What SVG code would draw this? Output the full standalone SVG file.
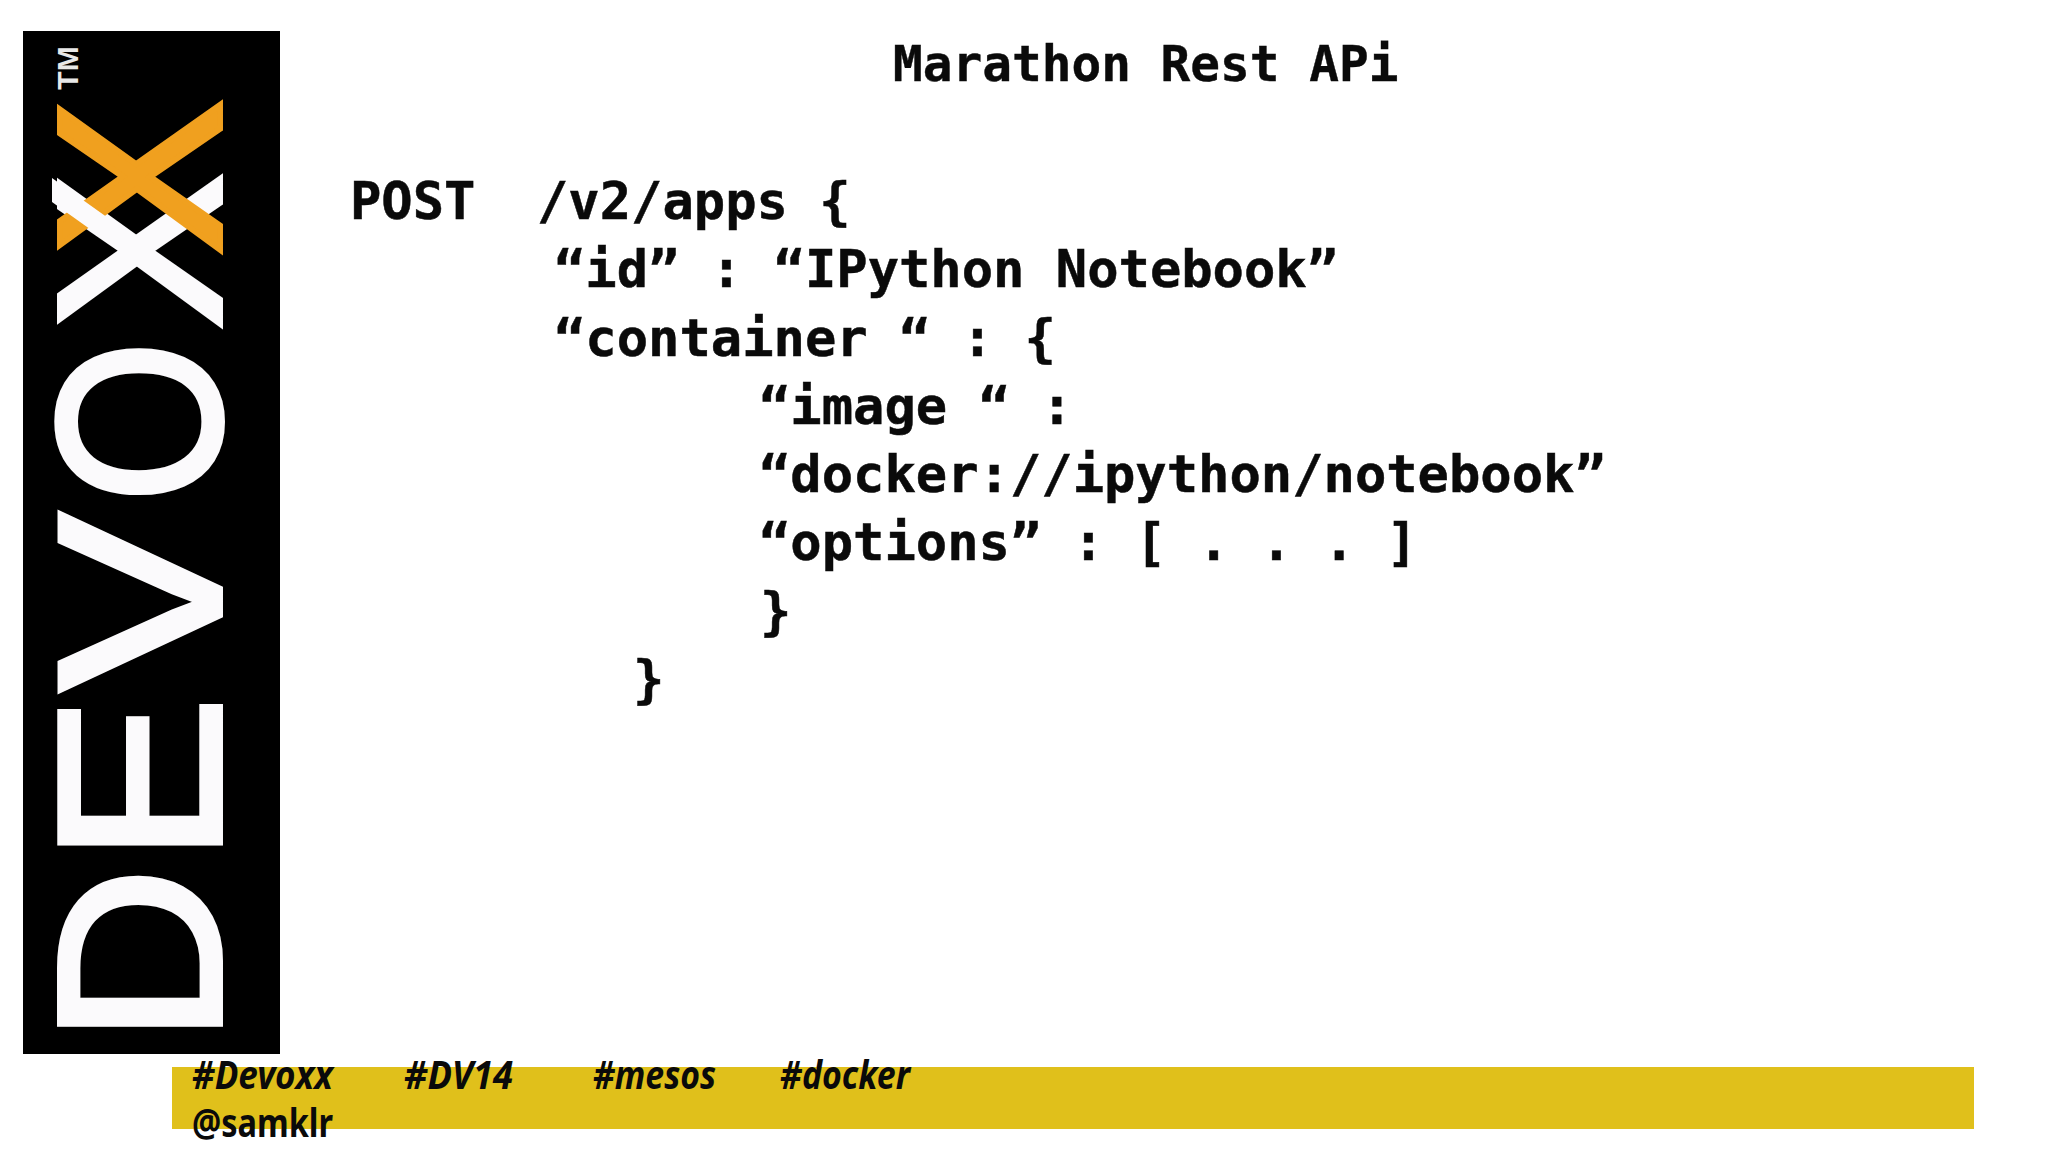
<svg xmlns="http://www.w3.org/2000/svg" width="2048" height="1152" viewBox="0 0 2048 1152">
<style>
.code{font-family:"DejaVu Sans Mono",monospace;font-weight:700;font-size:52.1px;fill:#0a0a0a;stroke:#0a0a0a;stroke-width:.5}
.title{font-family:"DejaVu Sans Mono",monospace;font-weight:700;font-size:49.4px;fill:#0a0a0a;stroke:#0a0a0a;stroke-width:.4}
.tag{font-family:"Noto Sans",sans-serif;font-weight:700;font-style:italic;font-size:40px;fill:#0a0a0a}
.at{font-family:"Noto Sans",sans-serif;font-weight:700;font-size:40px;fill:#0a0a0a}
.logo{font-family:"Liberation Sans",sans-serif;font-size:233px;fill:#fbfafc;stroke:#fbfafc;stroke-width:6;text-anchor:middle}
.tm{font-family:"Liberation Sans",sans-serif;font-weight:700;font-size:30px;fill:#e8e8e8;text-anchor:middle}
</style>
<rect width="2048" height="1152" fill="#fff"/>
<g id="logo">
<rect x="23" y="31" width="257" height="1023" fill="#000"/>
<text class="logo" transform="translate(220,955.5) rotate(-90) scale(1.05,.995)">D</text>
<text class="logo" transform="translate(220,779.5) rotate(-90) scale(1.07,.995)">E</text>
<text class="logo" transform="translate(220,602) rotate(-90) scale(1.14,.995)">V</text>
<text class="logo" transform="translate(220,421.5) rotate(-90) scale(.89,.995)">O</text>
<text class="logo" transform="translate(220,251.5) rotate(-90) scale(.995,.995)">X</text>
<text class="logo" style="fill:#f0a01f;stroke:#f0a01f" transform="translate(220,177.5) rotate(-90) scale(.995,.995)">X</text>
<polygon points="52,178 52,202 139,264 139,240" fill="#fbfafc"/>
<text class="tm" transform="translate(78,68) rotate(-90)">TM</text>
</g>
<g id="footer">
<rect x="172" y="1067" width="1802" height="62" fill="#e0c01b"/>
<text class="tag" x="192" y="1089" textLength="141" lengthAdjust="spacingAndGlyphs">#Devoxx</text>
<text class="tag" x="404" y="1089" textLength="109" lengthAdjust="spacingAndGlyphs">#DV14</text>
<text class="tag" x="593" y="1089" textLength="123" lengthAdjust="spacingAndGlyphs">#mesos</text>
<text class="tag" x="780" y="1089" textLength="130" lengthAdjust="spacingAndGlyphs">#docker</text>
<text class="at" x="192" y="1137" textLength="141" lengthAdjust="spacingAndGlyphs">@samklr</text>
</g>
<g id="content">
<text class="title" x="893" y="81">Marathon Rest APi</text>
<text class="code" x="350" y="219">POST</text>
<text class="code" x="537" y="219">/v2/apps {</text>
<text class="code" x="554" y="287">“id” : “IPython Notebook”</text>
<text class="code" x="554" y="355.5">“container “ : {</text>
<text class="code" x="759" y="423.5">“image “ :</text>
<text class="code" x="759" y="491.5">“docker://ipython/notebook”</text>
<text class="code" x="759" y="560">“options” : [ . . . ]</text>
<text class="code" x="760" y="629">}</text>
<text class="code" x="633" y="697">}</text>
</g>
</svg>
